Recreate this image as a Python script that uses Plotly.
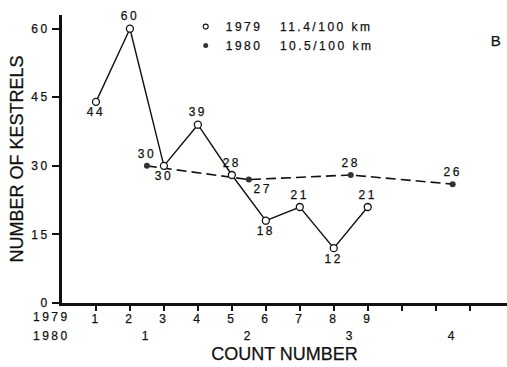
import plotly.graph_objects as go

# Kestrel counts per survey run
count_1979 = [1, 2, 3, 4, 5, 6, 7, 8, 9]
kestrels_1979 = [44, 60, 30, 39, 28, 18, 21, 12, 21]
pos_1980 = [2.5, 5.5, 8.5, 11.5]
kestrels_1980 = [30, 27, 28, 26]
labels_1980 = ["1", "2", "3", "4"]

x_ticks = list(range(1, 13))
x_tick_text = [str(i) for i in range(1, 10)] + ["", "", ""]
y_ticks = [0, 15, 30, 45, 60]

legend_1979 = "1979\u00a0\u00a0\u00a011.4/100 km"
legend_1980 = "1980\u00a0\u00a0\u00a010.5/100 km"

FONT = "Liberation Sans, Arial, sans-serif"
INK = "#111111"

pos_1979_text = ["bottom center", "top center", "bottom center", "top center",
                 "top center", "bottom center", "top center", "bottom center",
                 "top center"]
pos_1980_text = ["top center", "bottom right", "top center", "top center"]

fig = go.Figure()

fig.add_trace(go.Scatter(
    x=pos_1980, y=kestrels_1980, mode="lines+markers+text",
    text=[str(v) for v in kestrels_1980], textposition=pos_1980_text,
    textfont=dict(family=FONT, size=12, color=INK),
    line=dict(color=INK, width=1.6, dash="10px,5px"),
    marker=dict(size=6, color="#333333", line=dict(width=0)),
    showlegend=False, cliponaxis=False,
))

fig.add_trace(go.Scatter(
    x=count_1979, y=kestrels_1979, mode="lines+markers+text",
    text=[str(v) for v in kestrels_1979], textposition=pos_1979_text,
    textfont=dict(family=FONT, size=12, color=INK),
    line=dict(color=INK, width=1.4),
    marker=dict(size=7, color="white", line=dict(color=INK, width=1.3)),
    showlegend=False, cliponaxis=False,
))

# legend-only entries (symbols without connecting lines)
fig.add_trace(go.Scatter(
    x=[None], y=[None], mode="markers", name=legend_1979,
    marker=dict(size=5, color="white", line=dict(color=INK, width=1.1)),
))
fig.add_trace(go.Scatter(
    x=[None], y=[None], mode="markers", name=legend_1980,
    marker=dict(size=5, color="#333333", line=dict(width=0)),
))

annotations = []
# second row of x tick labels: 1980 count numbers
for xv, lab in zip(pos_1980, labels_1980):
    annotations.append(dict(
        x=xv, y=-0.115, xref="x", yref="paper", text=lab, showarrow=False,
        xanchor="center", yanchor="middle",
        font=dict(family=FONT, size=12, color=INK),
    ))
# row captions for the two tick rows
for yv, lab in [(-0.05, "1979"), (-0.115, "1980")]:
    annotations.append(dict(
        x=0.012, y=yv, xref="paper", yref="paper", text=lab, showarrow=False,
        xanchor="right", yanchor="middle",
        font=dict(family=FONT, size=12, color=INK),
    ))
# panel letter
annotations.append(dict(
    x=0.977, y=0.913, xref="paper", yref="paper", text="B", showarrow=False,
    xanchor="center", yanchor="middle",
    font=dict(family=FONT, size=15, color=INK),
))

fig.update_layout(
    width=507, height=367,
    margin=dict(l=62, r=0, t=15, b=64),
    paper_bgcolor="white", plot_bgcolor="white",
    font=dict(family=FONT, size=12, color=INK),
    showlegend=True,
    legend=dict(
        x=0.278, y=1.01, xanchor="left", yanchor="top",
        bgcolor="rgba(0,0,0,0)", font=dict(family=FONT, size=12, color=INK),
        itemwidth=30, tracegroupgap=0,
    ),
    annotations=annotations,
)

fig.update_xaxes(
    range=[0, 13.1], tickmode="array", tickvals=x_ticks, ticktext=x_tick_text,
    ticks="outside", ticklen=5, tickwidth=2, tickcolor=INK,
    showline=True, linewidth=3, linecolor=INK, showgrid=False, zeroline=False,
    tickfont=dict(family=FONT, size=12, color=INK), ticklabelstandoff=-2,
    title=dict(text="COUNT NUMBER", font=dict(family=FONT, size=18, color=INK),
               standoff=22),
    automargin=False,
)
fig.update_yaxes(
    range=[0, 63], tickmode="array", tickvals=y_ticks,
    ticks="outside", ticklen=7, tickwidth=2, tickcolor=INK,
    showline=True, linewidth=3, linecolor=INK, showgrid=False, zeroline=False,
    tickfont=dict(family=FONT, size=12, color=INK),
    title=dict(text="NUMBER OF KESTRELS",
               font=dict(family=FONT, size=18, color=INK), standoff=8),
    automargin=False,
)

# wide tracking and slightly heavier strokes for the lettering
css = (".xtick text, .ytick text, text.legendtext, "
       ".annotation-text, .textpoint text { letter-spacing: 2.5px; } "
       "svg text { stroke: #111111; stroke-width: 0.25px; } "
       ".legend .scrollbox { clip-path: none !important; }")
post = ("var s=document.createElement('style');s.textContent='" + css +
        "';document.head.appendChild(s);")

fig.write_html("out.html", post_script=post)
